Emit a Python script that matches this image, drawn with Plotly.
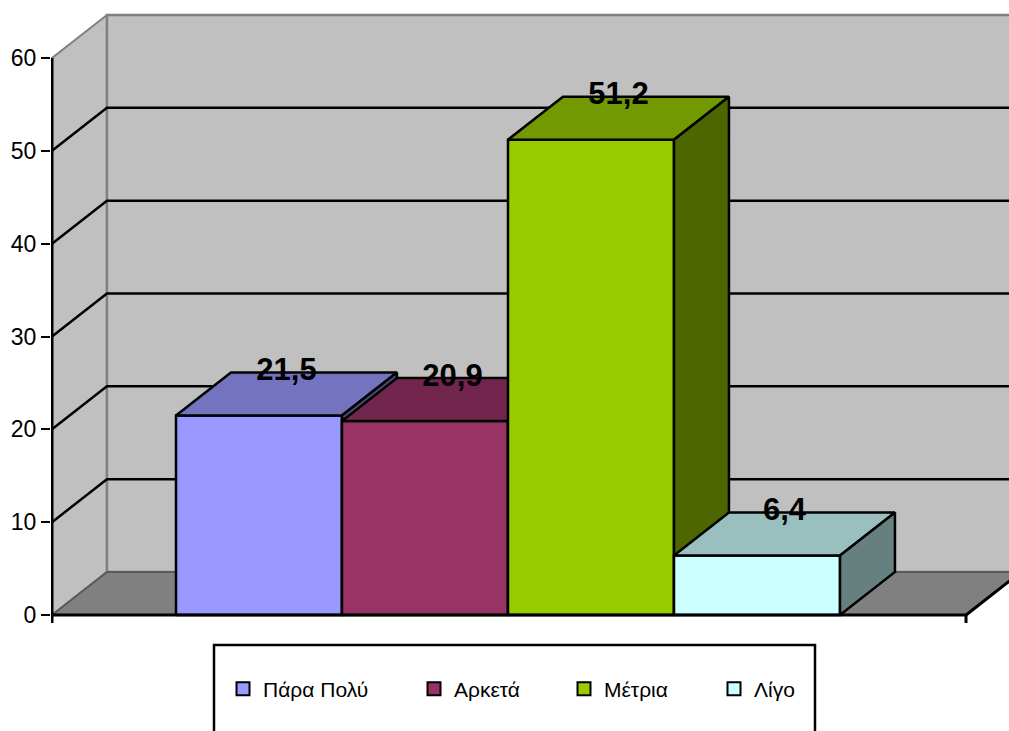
import plotly.graph_objects as go

# ---- data ----
series_names = ["Πάρα Πολύ", "Αρκετά", "Μέτρια", "Λίγο"]
values = [21.5, 20.9, 51.2, 6.4]
front_colors = ["#9999FF", "#993366", "#99CC00", "#CCFFFF"]
top_colors = ["#7373BF", "#73264D", "#739900", "#99BFBF"]
side_colors = ["#4D4D80", "#4D1A33", "#4D6600", "#668080"]
y_ticks = [0, 10, 20, 30, 40, 50, 60]

# ---- 3D projection geometry (data units) ----
BAR_W = 1.0
X_LEFT, X_RIGHT = -1.247, 4.259   # front plane extent of category axis
DX, DY = 0.331, 4.63              # depth offset (x units, y units)
Y_MAX = y_ticks[-1]
FONT = "Arial, Liberation Sans, sans-serif"

fig = go.Figure()


def poly(xs, ys, fill, line_color, lw=2.5):
    fig.add_trace(go.Scatter(
        x=xs + [xs[0]], y=ys + [ys[0]], mode="lines", fill="toself",
        fillcolor=fill, line=dict(color=line_color, width=lw),
        hoverinfo="skip", showlegend=False))


# walls
poly([X_LEFT, X_LEFT, X_LEFT + DX, X_LEFT + DX], [0, Y_MAX, Y_MAX + DY, DY], "#C0C0C0", "#808080", 2)
poly([X_LEFT + DX, X_LEFT + DX, X_RIGHT + DX, X_RIGHT + DX], [DY, Y_MAX + DY, Y_MAX + DY, DY], "#C0C0C0", "#808080", 2.5)
poly([X_LEFT, X_RIGHT, X_RIGHT + DX, X_LEFT + DX], [0, 0, DY, DY], "#808080", "#5A5A5A", 2)

# gridlines on side and back walls
gx, gy = [], []
for t in y_ticks[1:-1]:
    gx += [X_LEFT, X_LEFT + DX, X_RIGHT + DX, None]
    gy += [t, t + DY, t + DY, None]
fig.add_trace(go.Scatter(x=gx, y=gy, mode="lines", line=dict(color="black", width=2.5),
                         hoverinfo="skip", showlegend=False))

# bars (front, top, side), drawn left to right
for i, v in enumerate(values):
    L, R = i - BAR_W / 2, i + BAR_W / 2
    poly([L, R, R, L], [0, 0, v, v], front_colors[i], "black")
    poly([L, R, R + DX, L + DX], [v, v, v + DY, v + DY], top_colors[i], "black")
    poly([R, R + DX, R + DX, R], [0, DY, v + DY, v], side_colors[i], "black")

# axis lines (front plane)
fig.add_trace(go.Scatter(
    x=[X_LEFT, X_LEFT, None, X_LEFT, X_RIGHT, None, X_RIGHT, X_RIGHT, None, X_RIGHT, X_RIGHT + DX],
    y=[-0.86, Y_MAX, None, 0, 0, None, 0, -0.86, None, 0, DY],
    mode="lines", line=dict(color="black", width=3), hoverinfo="skip", showlegend=False))

# data labels
fig.add_trace(go.Scatter(
    x=[i + DX / 2 for i in range(len(values))],
    y=[v + DY for v in values],
    text=[f"{v:.1f}".replace(".", ",") for v in values],
    mode="text", textposition="middle center",
    textfont=dict(family=FONT, size=31, color="black", weight="bold"),
    hoverinfo="skip", showlegend=False, cliponaxis=False))

# legend entries
legend_x_px = [223, 414, 564, 714]
legend_names = ["legend", "legend2", "legend3", "legend4"]
for i, name in enumerate(series_names):
    fig.add_trace(go.Scatter(
        x=[None], y=[None], mode="markers", name=name,
        marker=dict(symbol="square", size=13, color=front_colors[i],
                    line=dict(color="black", width=2)),
        legend=legend_names[i], showlegend=True))

PLOT_L, PLOT_R, PLOT_T, PLOT_B = 51, 1009, 12, 624
PW, PH = PLOT_R - PLOT_L, PLOT_B - PLOT_T

layout_legends = {}
for i, ln in enumerate(legend_names):
    layout_legends[ln] = dict(
        x=(legend_x_px[i] - PLOT_L) / PW, y=(PLOT_B - 689) / PH,
        xanchor="left", yanchor="middle", orientation="h",
        bgcolor="rgba(0,0,0,0)", borderwidth=0,
        font=dict(family=FONT, size=21, color="black"))

fig.update_layout(
    width=1009, height=731,
    margin=dict(l=PLOT_L, r=1009 - PLOT_R, t=PLOT_T, b=731 - PLOT_B),
    paper_bgcolor="white", plot_bgcolor="white",
    showlegend=True,
    xaxis=dict(range=[-1.253, 4.518], visible=False, fixedrange=True),
    yaxis=dict(range=[-0.97, 64.955], tickvals=y_ticks, ticks="outside", ticklen=9,
               tickwidth=2, tickcolor="black", showgrid=False, zeroline=False,
               showline=False, tickfont=dict(family=FONT, size=23, color="black"),
               fixedrange=True),
    shapes=[dict(type="rect", xref="paper", yref="paper",
                 x0=(214 - PLOT_L) / PW, x1=(815 - PLOT_L) / PW,
                 y0=(PLOT_B - 645) / PH, y1=(PLOT_B - 760) / PH,
                 line=dict(color="black", width=2.5), fillcolor="rgba(0,0,0,0)")],
    **layout_legends,
)

fig.write_html("out.html")
